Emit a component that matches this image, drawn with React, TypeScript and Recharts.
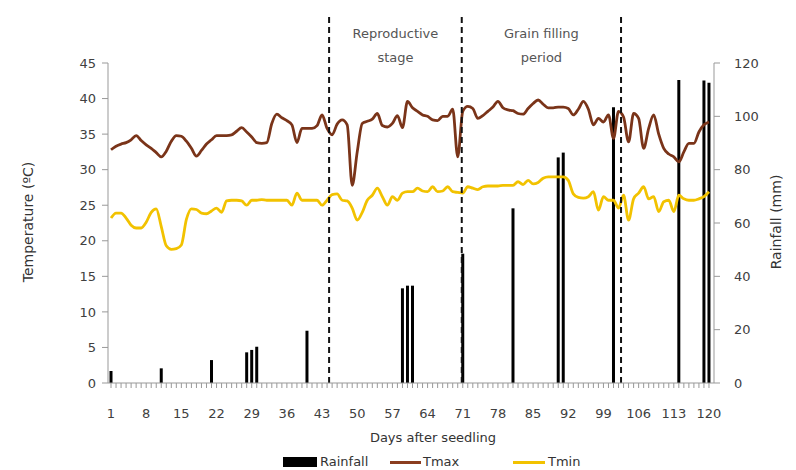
import React from 'react';
import { ComposedChart, Bar, Line, XAxis, YAxis, ReferenceLine, ReferenceArea } from 'recharts';

// days after seedling
const days = Array.from({ length: 120 }, (_, i) => i + 1);

// daily max temperature (ºC)
const tmax = [
  32.8, 33.3, 33.6, 33.8, 34.2, 34.8, 34.1, 33.5, 33.0, 32.4,
  31.8, 32.6, 34.0, 34.8, 34.7, 34.0, 33.0, 31.9, 32.7, 33.6,
  34.2, 34.8, 34.8, 34.8, 34.9, 35.4, 35.9, 35.3, 34.6, 33.8,
  33.7, 33.8, 36.5, 37.8, 37.3, 36.9, 36.3, 33.8, 35.8, 35.8,
  35.8, 36.2, 37.7, 35.8, 34.9, 36.4, 37.0, 36.3, 27.8, 32.5,
  36.5, 36.8, 37.1, 37.9, 36.2, 36.0, 36.5, 37.6, 35.9, 39.6,
  38.7, 38.2, 37.7, 37.5, 37.0, 36.9, 37.5, 37.5, 38.5, 31.8,
  38.2, 38.9, 38.6, 37.2, 37.6, 38.2, 38.8, 39.6, 38.7, 38.4,
  38.3, 37.9, 37.8, 38.6, 39.3, 39.8, 39.2, 38.7, 38.7, 38.8,
  38.8, 38.6, 37.7, 38.5, 39.6, 38.5, 36.3, 37.2, 36.7, 37.7,
  34.4, 38.2, 37.4, 33.9, 37.9, 37.2, 33.0, 35.8, 37.7, 35.0,
  33.0, 32.2, 31.8, 31.1, 32.5, 33.7, 33.7, 35.3, 36.3, 36.7,
];

// daily min temperature (ºC)
const tmin = [
  23.2, 23.9, 23.9, 23.2, 22.2, 21.8, 21.8, 22.6, 24.0, 24.5,
  22.0, 19.3, 18.8, 18.9, 19.4, 23.0, 24.5, 24.4, 23.9, 23.8,
  24.2, 24.6, 24.0, 25.6, 25.7, 25.7, 25.6, 25.0, 25.7, 25.7,
  25.8, 25.7, 25.7, 25.7, 25.7, 25.7, 25.0, 26.7, 25.7, 25.7,
  25.7, 25.7, 25.0, 25.7, 26.5, 26.6, 25.7, 25.6, 24.6, 22.9,
  24.0, 25.7, 26.4, 27.4, 26.2, 25.0, 26.2, 25.7, 26.7, 26.9,
  26.9, 27.4, 27.0, 26.9, 27.6, 26.9, 27.0, 27.6, 26.9, 26.8,
  26.7, 27.6, 27.4, 27.2, 27.6, 27.7, 27.7, 27.7, 27.8, 27.8,
  27.8, 28.3, 27.9, 28.5, 28.0, 28.2, 28.8, 29.0, 29.0, 29.0,
  29.0, 28.5, 26.6, 26.1, 26.0, 26.2, 26.9, 24.3, 26.2, 25.7,
  25.7, 24.6, 26.4, 22.9, 25.9, 26.7, 27.6, 25.9, 26.2, 24.1,
  25.5, 25.7, 24.1, 26.4, 25.9, 25.7, 25.7, 25.9, 26.2, 26.9,
];

// rainy days and amount (mm)
const rainDays = [1, 11, 21, 28, 29, 30, 40, 59, 60, 61, 71, 81, 90, 91, 101, 114, 119, 120];
const rainMm = [4.5, 5.5, 8.6, 11.5, 12.4, 13.6, 19.6, 35.5, 36.5, 36.5, 48.5, 65.5, 84.6, 86.4, 103.4, 113.6, 113.4, 112.6];

const tempTicks = [0, 5, 10, 15, 20, 25, 30, 35, 40, 45];
const rainTicks = [0, 20, 40, 60, 80, 100, 120];
const stageLines = [44.4, 70.8, 102.5];
const stageNames = [['Reproductive', 'stage'], ['Grain filling', 'period']];

const data = days.map((d, i) => {
  const k = rainDays.indexOf(d);
  return { day: d, tmax: tmax[i], tmin: tmin[i], rain: k >= 0 ? rainMm[k] : null };
});

const FONT = 'DejaVu Sans';
const tickStyle = { fill: '#404040', fontSize: 13, fontFamily: FONT };

// axis titles: own prop names so recharts' cloned x/y don't override
const AxisTitle = ({ px, py, rot, text }: { px: number; py: number; rot?: boolean; text: string }) => (
  <text x={px} y={py} transform={rot ? `rotate(-90 ${px} ${py})` : undefined} textAnchor="middle" dominantBaseline="central"
    fill="#333" fontSize={rot ? 14 : 13} fontFamily={FONT}>{text}</text>
);

const StageLabel = ({ viewBox, lines }: any) => {
  if (!viewBox) return null;
  const cx = viewBox.x + viewBox.width / 2;
  return (
    <g>
      <text x={cx} y={viewBox.y - 30} textAnchor="middle" dominantBaseline="central" fill="#555" fontSize={13} fontFamily={FONT}>{lines[0]}</text>
      <text x={cx} y={viewBox.y - 6} textAnchor="middle" dominantBaseline="central" fill="#555" fontSize={13} fontFamily={FONT}>{lines[1]}</text>
    </g>
  );
};

const legendText: React.CSSProperties = { position: 'absolute', top: 0, lineHeight: '16px', fontSize: 13, color: '#333' };

const App: React.FC = () => {
  return (
    <div style={{ position: 'absolute', left: 0, top: 0, width: 796, height: 470, background: '#fff', fontFamily: FONT }}>
      <ComposedChart width={796} height={470} data={data} margin={{ top: 63, right: 22, bottom: 27, left: 38 }}>
        <XAxis dataKey="day" type="number" domain={[0.4, 121]} ticks={days} interval={0}
          tickFormatter={(d: number) => ((d - 1) % 7 === 0 ? String(d) : '')}
          tick={tickStyle} tickSize={5} tickMargin={21} stroke="#999" height={60}
          label={<AxisTitle px={433} py={437} text="Days after seedling" />} />
        <YAxis yAxisId="left" domain={[0, 45]} ticks={tempTicks} interval={0} width={70}
          tick={tickStyle} tickSize={6} tickMargin={6} stroke="#999"
          label={<AxisTitle px={28} py={222} rot text="Temperature (ºC)" />} />
        <YAxis yAxisId="right" orientation="right" domain={[0, 120]} ticks={rainTicks} interval={0} width={60}
          tick={{ ...tickStyle, textAnchor: 'start' }} tickSize={6} tickMargin={14} stroke="#999"
          label={<AxisTitle px={776} py={222} rot text="Rainfall (mm)" />} />
        {stageNames.map((lines, i) => (
          <ReferenceArea key={i} yAxisId="left" x1={stageLines[i]} x2={stageLines[i + 1]} fill="none" fillOpacity={0}
            label={<StageLabel lines={lines} />} />
        ))}
        <Bar yAxisId="right" dataKey="rain" fill="#000" barSize={3} isAnimationActive={false} />
        <Line yAxisId="left" type="monotone" dataKey="tmax" stroke="#7a3419" strokeWidth={2.8} dot={false} isAnimationActive={false} />
        <Line yAxisId="left" type="monotone" dataKey="tmin" stroke="#f2c200" strokeWidth={2.8} dot={false} isAnimationActive={false} />
        {stageLines.map((x, i) => (
          <ReferenceLine key={i} yAxisId="left" segment={[{ x, y: 0 }, { x, y: 52 }]} ifOverflow="visible"
            stroke="#111" strokeWidth={2} strokeDasharray="6 4" />
        ))}
      </ComposedChart>
      <div style={{ position: 'absolute', left: 0, top: 454, width: 796, height: 16 }}>
        <span style={{ position: 'absolute', left: 283, top: 3, width: 34, height: 10, background: '#000' }} />
        <span style={{ ...legendText, left: 320 }}>Rainfall</span>
        <span style={{ position: 'absolute', left: 390, top: 7, width: 31, height: 3, background: '#8b3d1f' }} />
        <span style={{ ...legendText, left: 423 }}>Tmax</span>
        <span style={{ position: 'absolute', left: 513, top: 7, width: 32, height: 3, background: '#f2c200' }} />
        <span style={{ ...legendText, left: 548 }}>Tmin</span>
      </div>
    </div>
  );
};

export default App;
